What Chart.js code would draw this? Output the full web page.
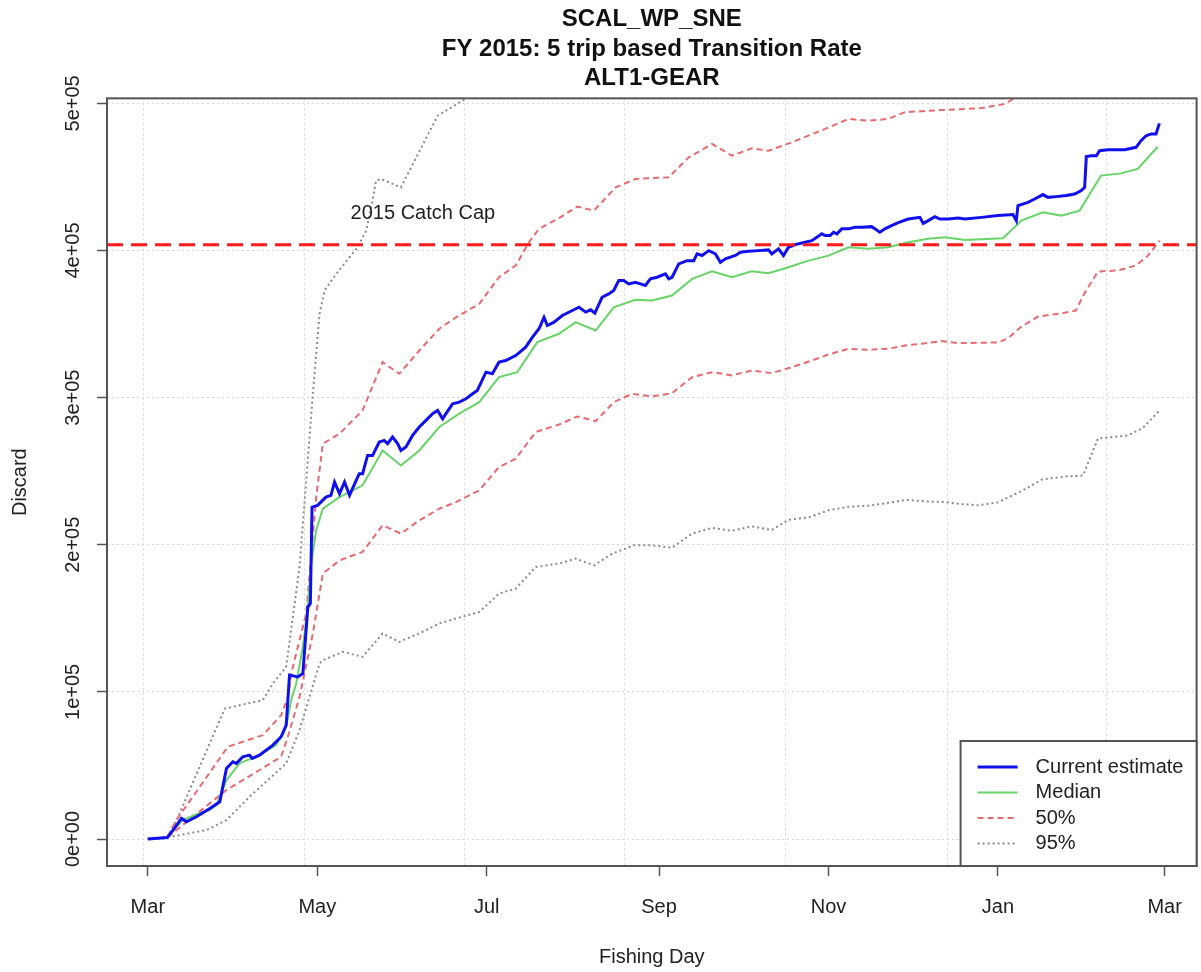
<!DOCTYPE html>
<html><head><meta charset="utf-8">
<script src="https://cdn.jsdelivr.net/npm/chart.js@4.4.1/dist/chart.umd.min.js"></script>
<style>html,body{margin:0;padding:0;background:#fff;}canvas{display:block;}</style>
</head><body>
<canvas id="c" width="1201" height="972"></canvas>
<script>
// ---------- data ----------
const titleLines = ['SCAL_WP_SNE', 'FY 2015: 5 trip based Transition Rate', 'ALT1-GEAR'];
const xAxisTitle = 'Fishing Day';
const yAxisTitle = 'Discard';
const xTickDays = [0, 61, 122, 184, 245, 306, 366];
const xTickLabels = ['Mar', 'May', 'Jul', 'Sep', 'Nov', 'Jan', 'Mar'];
const yTickValues = [0, 100000, 200000, 300000, 400000, 500000];
const yTickLabels = ['0e+00', '1e+05', '2e+05', '3e+05', '4e+05', '5e+05'];
const gridDays = [-1.6, 56.4, 114, 171.7, 229.5, 287.7, 345.2];
const xRange = [-14.7, 377.5];
const yRange = [-18340, 503400];
const catchCap = 403900;
const catchCapLabel = '2015 Catch Cap';
const catchCapLabelAt = [99, 425000];
const seriesNames = ['Current estimate', 'Median', '50%', '95%'];

const currentDays = [0,7,9.1,12.1,13.9,17.5,22.3,25.9,28.3,30.6,31.9,34.2,36.6,37.6,40.2,45,48,49.8,51,54,55.8,57.6,58.5,59.1,61.1,64.1,65.9,67.2,69,70.8,72.6,75,76.1,77.3,79.1,80.9,83.3,85.1,86.3,88.1,89.9,91.1,92.9,95.3,97.7,100.1,102.5,104.3,106.1,107.3,109.7,112.1,114.5,116.9,118.6,121.7,124,126.4,128.8,132.4,136,138.4,140.8,142.6,143.8,146.2,149.2,152.8,155.2,157.6,159.4,160.9,163.5,165.9,167.7,169.5,171.3,173.1,175.5,177.3,179.1,180.9,183.3,186.3,187.5,188.7,191.1,194.1,196.5,197.7,199.5,201.9,204.3,206.1,207.9,211.5,213.3,216.2,219.8,223.4,224.6,227,228.8,230.6,233,236.6,239,240.8,242.6,243.8,245.6,246.8,248,249.8,252.2,254.6,257,260.5,261.7,263.5,265.3,267.7,270.1,273.7,277.9,279.1,280.9,283.3,285.1,288.1,291.7,294.1,300.1,306,311.4,312.6,313.2,316.8,319.2,322.2,324,327,330.6,333.6,336,337.2,337.8,339.6,341.4,342.6,345.6,351.6,355.7,357.5,359.3,361.1,362.9,364.1];
const currentVals = [0,1000,6100,14000,11700,15100,20800,25300,48000,52500,51400,55900,57000,54800,57000,63800,69500,77400,111400,110200,112500,157700,160000,225600,226800,232400,233600,242600,234700,242600,233600,243800,248300,248300,260700,260700,269800,270900,268700,273200,268700,264100,266400,274300,280000,284500,289100,291300,285600,289100,295800,296900,299200,302600,304900,317300,316200,324100,325200,328600,334300,341000,346800,354600,349000,351300,355800,359200,361400,358100,359700,357400,368200,370500,372800,379600,379600,377300,378400,377300,376200,380700,381800,384100,380700,381800,390900,393100,393100,397700,396600,399900,397700,392000,394300,396600,398800,399500,399900,400400,397700,401100,396600,402200,404000,405600,406700,409000,411300,410100,410100,412400,411300,414700,414700,415800,415800,416200,414700,412400,414700,416900,419000,421400,422500,418400,420300,423000,421400,421400,422100,421400,422500,423700,424400,420300,430500,432700,435000,438000,436100,436600,437300,438400,440700,442900,463800,464400,464400,467800,468500,468500,470100,474600,478000,479200,479200,486400];

const medianDays = [0,7,9.7,12.6,18.7,22.3,24.7,28.3,33,40.2,46.2,49.8,51.6,53.4,55.8,57.6,58.8,60.6,63,69,77.3,84.5,91.1,97.7,104.9,112.1,119.3,126.4,133,140.2,148,154,161.2,167.7,175.5,181.5,188.7,195.9,203.1,210.2,217.4,223.4,230.6,237.8,245,252.2,259.3,266.5,273.7,280.9,286.9,294.1,300.1,307.8,314.4,322.2,328.8,335.4,343.1,350.3,356.3,363.5];
const medianVals = [0,1000,7500,12900,17700,19700,23100,40100,51400,57000,63800,76300,94400,105700,130600,157700,187200,209800,224500,232400,240400,264100,253900,264100,280000,289100,296900,313900,317300,337700,343400,351300,345600,361400,366500,366000,369400,380700,385900,381800,385900,384500,388600,393100,396500,402200,401100,402200,405600,407900,409000,407200,407600,408300,420300,426000,423700,427100,450900,452400,455400,470500];

const p50HighDays = [0,7,10.3,28.8,41.4,48,50.4,51.6,57,60.6,63,69,77.3,84.5,90.5,97.7,104.9,110.9,119.3,126.4,132.4,137.2,140.8,148,154.6,160.6,168.4,175.5,187.5,194.7,203.1,210.2,217.4,223.4,231.8,243.8,252.2,259.3,266.5,272.5,285.7,300.1,308.4,312,318];
const p50HighVals = [0,1000,12900,62700,70600,84200,96600,112500,153200,232400,268700,275500,291300,324100,316200,332000,346800,354600,363700,381800,389700,405600,414700,422000,429800,427100,442900,448600,449700,463300,472400,464400,469400,467800,473500,482600,489400,488200,489400,494000,495400,496800,499500,503600,512000];

const p50LowDays = [0,7,10.3,28.3,40.2,48,50.4,54.6,59.4,63,69,77.3,84.5,91.1,97.7,104.9,110.9,119.3,126.4,132.4,139.6,148,154.6,161.2,167.7,174.3,181.5,188.7,195.9,203.1,210.2,217.4,224.6,231.8,239,245,252.2,259.3,266.5,272.5,278.5,285.7,291.7,306,309.6,314,320.4,328.7,334,337.3,342,349,355.6,360,364.2];
const p50LowVals = [0,1000,6100,33300,46900,55900,69500,96600,139700,180400,189400,195100,213200,207600,216600,224500,229000,237000,252800,258500,276600,281700,287200,284000,296900,302600,300800,303000,313900,317300,315100,318500,316600,320700,325200,329300,333200,332500,333200,335400,336600,338400,337000,337500,340200,347600,355100,357200,359200,371400,385700,386400,389700,396500,406700];

const p95HighDays = [0,7,10.9,27.7,41.4,45,49.8,54.6,59.4,61.8,63.6,67.8,72.6,75.5,78.6,80.9,82.1,83.9,91.1,104.3,113.3,118];
const p95HighVals = [0,1000,15100,88700,94400,105700,117000,184900,302600,356900,372800,384100,395400,402200,413500,433900,447500,448600,442900,491600,501800,508000];

const p95LowDays = [0,8.5,21.1,28.3,36.6,49.8,54.6,61.8,63,70.2,77.3,84.5,90.5,97.7,104.9,110.9,119.3,126.4,132.4,139.6,148,154,160.6,167.2,174.9,181.5,188.7,195.9,203.1,210.2,217.4,224.6,230.6,237.8,245,252.2,259.3,266.5,273.1,279.7,286.9,291.7,298.9,306,315,322,331,336.6,342,352.7,358,364.2];
const p95LowVals = [0,1600,6100,12900,28700,51400,74000,119300,121500,127200,123800,139700,134000,139700,146500,149900,154300,166800,170200,184900,187200,190600,186000,194000,199600,199600,198000,207600,211500,209500,212500,210000,217000,218500,223400,225800,226500,228500,230500,229500,229000,227900,226800,228800,237000,244500,246500,247000,272300,274300,279100,291300];

// ---------- build ----------
const FONT = 'Liberation Sans, Arial, Helvetica, sans-serif';
const pts = (d, v) => d.map((x, i) => ({x: x, y: v[i]}));

const datasets = [
  {label: 'cap', data: [{x: xRange[0], y: catchCap}, {x: xRange[1], y: catchCap}], borderColor: '#ff1a1a', borderWidth: 3, borderDash: [16, 8]},
  {label: seriesNames[0], data: pts(currentDays, currentVals), borderColor: '#1010ee', borderWidth: 3},
  {label: seriesNames[1], data: pts(medianDays, medianVals), borderColor: '#66d466', borderWidth: 2},
  {label: seriesNames[2], data: pts(p50HighDays, p50HighVals), borderColor: '#e86a6e', borderWidth: 2, borderDash: [6, 4]},
  {label: seriesNames[2], data: pts(p50LowDays, p50LowVals), borderColor: '#e86a6e', borderWidth: 2, borderDash: [6, 4]},
  {label: seriesNames[3], data: pts(p95HighDays, p95HighVals), borderColor: '#8a8a8a', borderWidth: 2, borderDash: [2, 3]},
  {label: seriesNames[3], data: pts(p95LowDays, p95LowVals), borderColor: '#8a8a8a', borderWidth: 2, borderDash: [2, 3]}
].map(d => Object.assign({pointRadius: 0, tension: 0, fill: false, xAxisID: 'x', yAxisID: 'y'}, d));

const legendEntries = [1, 2, 3, 5];

const boxAndLegend = {
  id: 'boxAndLegend',
  afterDatasetsDraw(chart) {
    const ctx = chart.ctx, a = chart.chartArea;
    const xs = chart.scales.x, ys = chart.scales.y;
    ctx.save();
    // cap label
    ctx.fillStyle = '#222';
    ctx.font = '20px ' + FONT;
    ctx.textAlign = 'center';
    ctx.textBaseline = 'middle';
    ctx.fillText(catchCapLabel, xs.getPixelForValue(catchCapLabelAt[0]), ys.getPixelForValue(catchCapLabelAt[1]));
    // plot box
    ctx.strokeStyle = '#555';
    ctx.lineWidth = 2;
    ctx.setLineDash([]);
    ctx.strokeRect(a.left, a.top, a.right - a.left, a.bottom - a.top);
    // legend
    const w = 236, h = 125;
    const x0 = a.right - w, y0 = a.bottom - h;
    ctx.fillStyle = '#fff';
    ctx.fillRect(x0, y0, w, h);
    ctx.strokeRect(x0, y0, w, h);
    ctx.textAlign = 'left';
    legendEntries.forEach((di, i) => {
      const ds = chart.data.datasets[di];
      const y = y0 + 26 + i * 25.5;
      ctx.strokeStyle = ds.borderColor;
      ctx.lineWidth = ds.borderWidth;
      ctx.setLineDash(ds.borderDash || []);
      ctx.beginPath();
      ctx.moveTo(x0 + 17, y);
      ctx.lineTo(x0 + 57, y);
      ctx.stroke();
      ctx.fillStyle = '#222';
      ctx.fillText(ds.label, x0 + 75, y);
    });
    ctx.restore();
  }
};

new Chart(document.getElementById('c'), {
  type: 'line',
  data: {datasets: datasets},
  options: {
    responsive: false,
    animation: false,
    devicePixelRatio: 1,
    layout: {padding: {left: 0, right: 2, top: 0, bottom: 0}},
    plugins: {
      legend: {display: false},
      tooltip: {enabled: false},
      title: {
        display: true, text: titleLines, fullSize: false, color: '#111',
        font: {family: FONT, size: 24, weight: 'bold', lineHeight: 1.22},
        padding: {top: 5, bottom: 5.5}
      }
    },
    scales: {
      x: {
        type: 'linear', position: 'bottom', min: xRange[0], max: xRange[1],
        afterBuildTicks: s => { s.ticks = xTickDays.map(v => ({value: v})); },
        afterFit: s => { s.height = 106; },
        ticks: {autoSkip: false, minRotation: 0, maxRotation: 0, padding: 19, color: '#222',
          font: {family: FONT, size: 20}, callback: (v, i) => xTickLabels[i]},
        grid: {drawOnChartArea: false, drawTicks: true, tickLength: 10, tickColor: '#555', tickWidth: 1.5},
        border: {display: false},
        title: {display: true, text: xAxisTitle, color: '#222', font: {family: FONT, size: 20}, padding: {top: 0, bottom: 3}}
      },
      xg: {
        type: 'linear', position: 'bottom', min: xRange[0], max: xRange[1],
        afterBuildTicks: s => { s.ticks = gridDays.map(v => ({value: v})); },
        afterFit: s => { s.height = 0; },
        ticks: {display: false},
        grid: {drawTicks: false, color: '#d6d6d6', lineWidth: 1},
        border: {display: false, dash: [2, 3]}
      },
      y: {
        type: 'linear', position: 'left', min: yRange[0], max: yRange[1],
        afterBuildTicks: s => { s.ticks = yTickValues.map(v => ({value: v})); },
        afterFit: s => { s.width = 107; },
        ticks: {minRotation: 90, maxRotation: 90, crossAlign: 'center', padding: -5, color: '#222',
          font: {family: FONT, size: 20}, callback: (v, i) => yTickLabels[i]},
        grid: {color: '#d6d6d6', lineWidth: 1, tickColor: '#555', tickLength: 10, tickWidth: 1.5, tickBorderDash: []},
        border: {display: false, dash: [2, 3]},
        title: {display: true, text: yAxisTitle, color: '#222', font: {family: FONT, size: 20}, padding: {top: 8, bottom: 0}}
      }
    }
  },
  plugins: [boxAndLegend]
});
</script>
</body></html>
